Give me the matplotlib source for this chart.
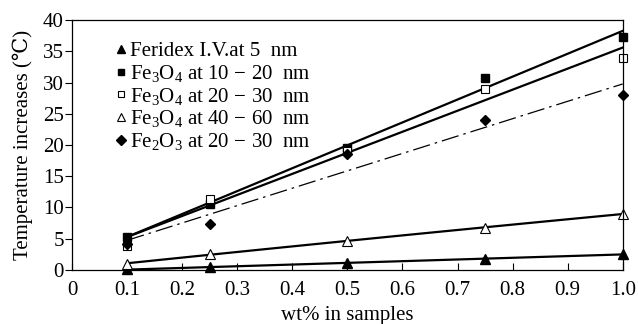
import matplotlib
matplotlib.use('Agg')
from matplotlib import pyplot as plt
from matplotlib.lines import Line2D
import numpy as np

plt.rcParams['font.family'] = ['Liberation Serif', 'DejaVu Serif']
plt.rcParams['mathtext.fontset'] = 'custom'
plt.rcParams['mathtext.rm'] = 'Liberation Serif'
plt.rcParams['mathtext.it'] = 'Liberation Serif:italic'

wt = [0.1, 0.25, 0.5, 0.75, 1.0]
feridex = [0.1, 0.4, 1.1, 1.8, 2.5]
fe3o4_10_20 = [5.3, 10.5, 19.5, 30.8, 37.3]
fe3o4_20_30 = [3.8, 11.3, 19.0, 29.0, 34.0]
fe3o4_40_60 = [1.0, 2.5, 4.7, 6.7, 9.0]
fe2o3_20_30 = [4.2, 7.4, 18.5, 24.0, 28.0]

labels = ['Feridex I.V.at 5  nm',
          'Fe$_3$O$_4$ at 10$\\,-\\,$20  nm',
          'Fe$_3$O$_4$ at 20$\\,-\\,$30  nm',
          'Fe$_3$O$_4$ at 40$\\,-\\,$60  nm',
          'Fe$_2$O$_3$ at 20$\\,-\\,$30  nm']

fs = 15

fig = plt.figure(figsize=(6.38, 3.24), dpi=100)
ax = fig.add_axes([0.113, 0.167, 0.863, 0.771])

x = np.array(wt)
t = np.linspace(0.1, 1.0, 100)

def fit(y, deg=1):
    return np.polyval(np.polyfit(x, y, deg), t)

# trend lines
ax.plot(t, fit(feridex), 'k-', lw=1.6)
ax.plot(t, fit(fe3o4_10_20), 'k-', lw=1.6)
ax.plot(t, fit(fe3o4_20_30), 'k-', lw=1.6)
ax.plot(t, fit(fe3o4_40_60, 2), 'k-', lw=1.6)
ax.plot(t, fit(fe2o3_20_30), color='k', lw=0.9, dashes=[14, 4, 2, 4])

ms = 6
ax.plot(wt, feridex, '^', color='k', ms=ms + 0.5, ls='none', clip_on=False)
ax.plot(wt, fe3o4_10_20, 's', color='k', ms=ms, ls='none', clip_on=False)
ax.plot(wt, fe3o4_20_30, 's', mfc='white', mec='k', mew=0.8, ms=ms, ls='none', clip_on=False)
ax.plot(wt, fe3o4_40_60, '^', mfc='white', mec='k', mew=0.8, ms=ms + 0.5, ls='none', clip_on=False)
ax.plot(wt, fe2o3_20_30, 'D', color='k', ms=5.5, ls='none', clip_on=False)

handles = [
    Line2D([], [], marker='^', color='k', ls='none', ms=6),
    Line2D([], [], marker='s', color='k', ls='none', ms=5),
    Line2D([], [], marker='s', mfc='white', mec='k', mew=0.8, ls='none', ms=5),
    Line2D([], [], marker='^', mfc='white', mec='k', mew=0.8, ls='none', ms=6),
    Line2D([], [], marker='D', color='k', ls='none', ms=5),
]
ax.legend(handles, labels, loc='upper left', bbox_to_anchor=(0.06, 0.955),
          frameon=False, fontsize=fs, handlelength=0.5, handletextpad=0.2,
          labelspacing=0.08, borderpad=0)

ax.set_xlim(0, 1.0)
ax.set_ylim(0, 40)
ax.set_xticks([0, 0.1, 0.2, 0.3, 0.4, 0.5, 0.6, 0.7, 0.8, 0.9, 1.0])
ax.set_xticklabels(['0', '0.1', '0.2', '0.3', '0.4', '0.5', '0.6', '0.7', '0.8', '0.9', '1.0'])
ax.set_yticks(range(0, 41, 5))
ax.tick_params(axis='x', direction='in', length=5, labelsize=fs, pad=8)
ax.tick_params(axis='y', direction='out', length=5, labelsize=fs, pad=1)
for s in ax.spines.values():
    s.set_linewidth(0.9)

ax.set_xlabel('wt% in samples', fontsize=fs, labelpad=4)
ax.set_ylabel('Temperature increases (\u2103)', fontsize=fs, labelpad=7)

plt.savefig('out.png', dpi=100)
